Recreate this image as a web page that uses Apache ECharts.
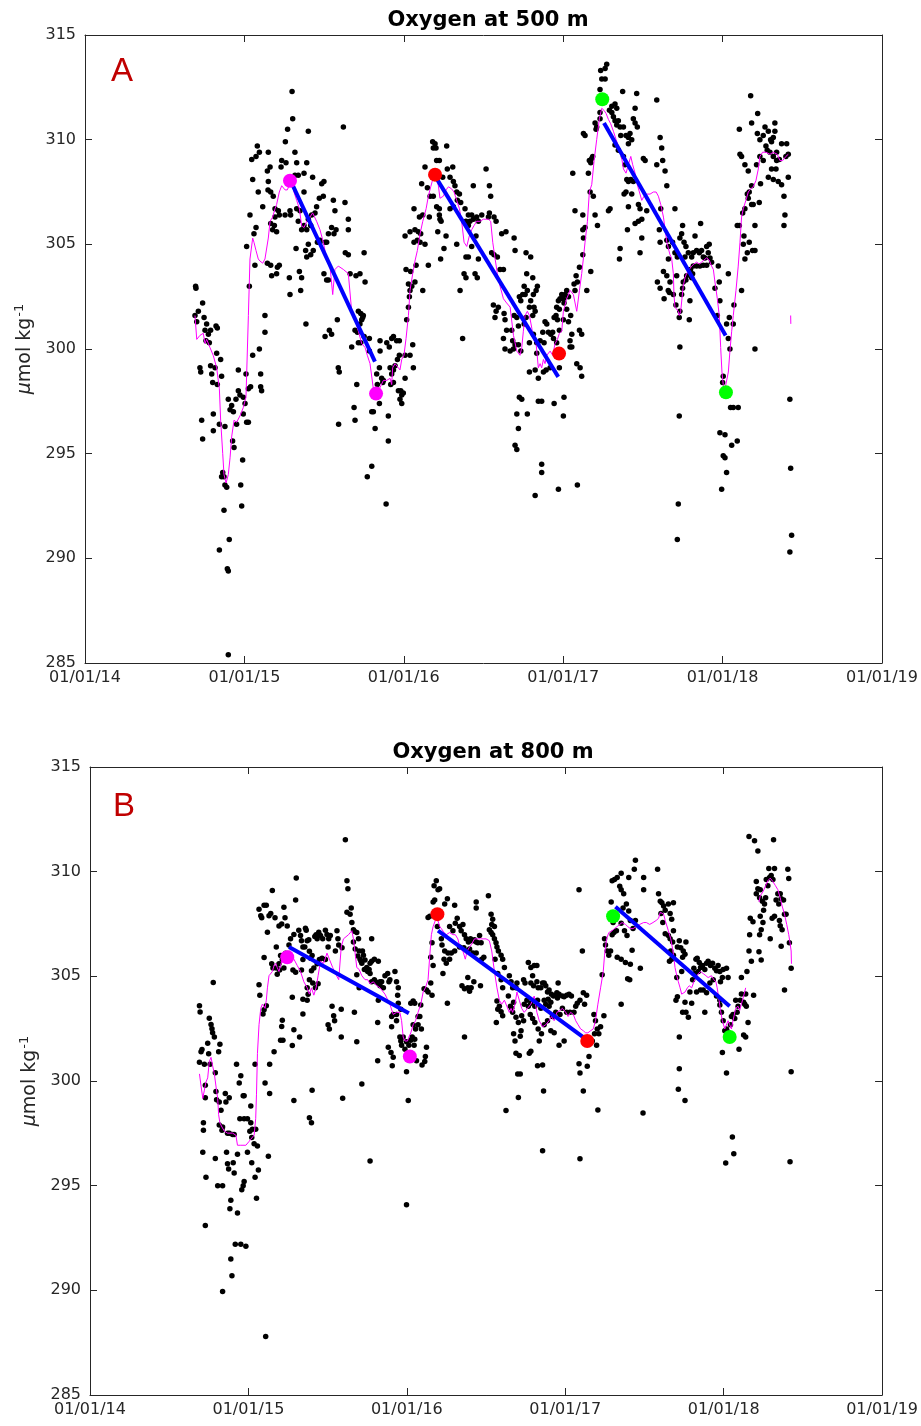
<!DOCTYPE html>
<html>
<head>
<meta charset="utf-8">
<title>Oxygen at 500 m / 800 m</title>
<script src="https://cdn.jsdelivr.net/npm/echarts@6/dist/echarts.min.js"></script>
<style>
html, body { margin: 0; padding: 0; background: #fff; }
#main { width: 921px; height: 1426px; }
</style>
</head>
<body>
<div id="main"></div>
<script>
// x values are decimal years, y values are umol/kg
var yearTicks = [2014, 2015, 2016, 2017, 2018, 2019];
var oxyTicks = [285, 290, 295, 300, 305, 310, 315];

// ---- 500 m : individual profiles ----
var obs500 = [
[2014.694,303.0],[2014.696,302.9],[2014.738,302.2],[2014.711,301.8],[2014.690,301.6],[2014.701,301.3],
[2014.747,301.5],[2014.763,301.2],[2014.753,300.9],[2014.774,300.7],[2014.759,300.4],[2014.780,300.3],[2014.788,300.9],[2014.822,301.1],[2014.830,301.0],
[2014.826,299.8],[2014.851,299.5],[2014.721,299.1],[2014.726,298.9],[2014.788,299.2],[2014.816,299.1],[2014.795,298.8],[2014.801,298.4],[2014.830,298.3],[2014.857,298.7],
[2014.805,296.9],[2014.843,296.4],[2014.878,296.3],[2014.732,296.6],[2014.738,295.7],[2014.805,296.1],
[2014.899,297.6],[2014.920,297.3],[2014.931,297.0],[2014.910,297.1],[2014.947,297.6],[2014.962,298.0],[2014.972,297.8],[2014.993,297.7],[2015.025,298.1],[2015.039,298.2],[2015.004,297.4],[2014.993,296.9],[2015.014,296.5],[2015.025,296.5],[2014.951,296.4],
[2014.926,295.6],[2014.935,295.3],[2014.962,299.0],[2015.010,298.8],[2014.989,294.7],
[2014.864,294.1],[2014.872,293.9],[2014.857,293.9],[2014.878,293.5],[2014.889,293.4],[2014.977,293.5],[2014.983,292.5],[2014.872,292.3],
[2014.905,290.9],[2014.843,290.4],[2014.893,289.5],[2014.899,289.4],[2014.899,285.4],
[2015.031,303.0],[2015.066,304.0],[2015.144,304.1],[2015.165,304.0],[2015.171,303.5],[2015.202,303.6],[2015.207,303.9],[2015.219,304.0],
[2015.035,306.4],[2015.073,305.8],[2015.060,305.5],[2015.014,304.9],
[2015.052,299.7],[2015.094,300.0],[2015.102,298.8],[2015.102,298.2],[2015.108,298.0],[2015.129,300.8],[2015.129,301.6],
[2015.046,309.05],[2015.081,309.7],[2015.094,309.4],[2015.073,309.2],[2015.052,308.1],[2015.087,307.5],[2015.115,306.8],[2015.144,308.5],[2015.161,308.7],[2015.150,308.0],[2015.148,307.6],[2015.165,307.5],[2015.181,307.3],[2015.150,309.4],[2015.192,306.7],[2015.202,305.6],[2015.188,305.9],[2015.192,306.3],[2015.177,305.7],[2015.213,306.6],[2015.219,306.4],[2015.165,306.0],
[2015.234,309.0],[2015.230,308.7],[2015.261,308.9],[2015.271,310.5],[2015.257,309.9],[2015.303,311.0],[2015.299,312.3],[2015.317,309.4],[2015.328,308.9],[2015.317,308.3],[2015.338,308.3],[2015.374,308.4],[2015.391,308.9],[2015.401,310.4],[2015.374,307.5],[2015.428,308.2],[2015.485,307.9],[2015.499,308.0],[2015.495,307.3],[2015.470,307.2],[2015.453,306.8],[2015.443,306.5],[2015.422,306.4],[2015.401,306.2],[2015.416,305.9],[2015.349,306.6],[2015.328,306.7],[2015.286,306.6],[2015.290,306.4],[2015.255,306.4],[2015.374,305.9],[2015.391,305.7],[2015.359,305.7],[2015.338,306.1],[2015.324,304.8],[2015.384,304.7],[2015.401,305.0],[2015.416,304.5],[2015.391,304.4],[2015.432,304.7],[2015.458,305.1],[2015.470,305.1],[2015.474,305.2],[2015.506,305.1],[2015.516,305.1],[2015.527,305.5],[2015.547,305.8],[2015.558,307.1],[2015.568,306.6],[2015.562,305.5],[2015.575,305.7],[2015.621,310.6],[2015.631,307.0],[2015.652,306.2],[2015.652,305.7],[2015.633,304.6],[2015.652,304.5],
[2015.499,303.6],[2015.516,303.3],[2015.527,303.3],[2015.345,303.7],[2015.359,303.4],[2015.353,302.8],[2015.282,303.4],[2015.286,302.6],[2015.386,301.2],[2015.506,300.6],[2015.533,300.9],[2015.547,300.7],[2015.583,301.4],[2015.589,299.1],[2015.595,298.9],[2015.591,296.4],
[2015.663,303.6],[2015.700,303.5],[2015.725,303.6],[2015.757,303.2],[2015.751,304.6],
[2015.715,301.8],[2015.730,301.7],[2015.746,301.6],[2015.742,301.5],[2015.725,301.2],[2015.736,301.4],
[2015.694,300.9],[2015.709,300.8],[2015.673,300.1],[2015.715,300.3],[2015.730,300.3],[2015.751,300.6],[2015.784,300.5],[2015.784,299.9],
[2015.705,298.3],[2015.688,297.2],[2015.694,296.6],[2015.799,297.0],[2015.809,297.0],[2015.820,296.2],[2015.847,297.4],[2015.868,298.4],[2015.861,298.6],[2015.830,298.8],[2015.847,299.1],[2015.872,298.5],[2015.834,298.3],[2015.851,299.9],[2015.851,300.4],[2015.893,300.3],[2015.909,300.1],[2015.924,300.5],[2015.935,300.6],[2015.955,300.4],[2015.972,300.4],[2015.914,299.1],[2015.924,298.8],[2015.935,299.0],[2015.945,299.2],[2015.960,299.5],[2015.972,299.7],[2015.935,298.4],[2015.918,298.3],[2015.966,298.0],[2015.981,298.0],[2015.987,297.8],[2015.976,297.6],[2015.987,297.4],[2015.997,297.9],[2016.008,298.6],[2016.008,299.7],[2016.039,299.7],[2016.056,300.2],[2016.060,299.1],[2015.903,296.8],[2015.903,295.6],[2015.799,294.4],[2015.771,293.9],[2015.889,292.6],
[2016.018,301.4],[2016.029,302.0],[2016.035,302.5],[2016.039,302.8],[2016.050,303.0],[2016.029,303.1],[2016.014,303.8],[2016.043,303.7],[2016.070,303.2],[2016.119,302.8],[2016.077,304.0],[2016.008,305.4],[2016.039,305.6],[2016.070,305.7],[2016.064,305.1],[2016.085,305.2],[2016.102,305.1],[2016.091,305.6],[2016.106,305.5],[2016.098,306.3],[2016.119,306.4],[2016.064,306.7],[2016.112,307.9],[2016.133,308.7],[2016.148,307.7],[2016.154,304.0],[2016.160,306.3],[2016.133,305.0],[2016.165,307.3],[2016.181,309.9],[2016.196,309.8],[2016.202,309.6],[2016.185,309.6],[2016.206,309.0],[2016.223,309.0],[2016.269,309.7],[2016.273,308.6],[2016.307,308.7],[2016.244,308.2],[2016.185,307.3],[2016.206,306.8],[2016.223,306.7],[2016.223,306.4],[2016.227,306.2],[2016.213,305.6],[2016.234,306.1],[2016.252,304.8],[2016.231,304.3],[2016.265,305.4],
[2016.290,308.2],[2016.311,308.0],[2016.321,307.8],[2016.332,307.5],[2016.349,307.4],[2016.357,307.0],[2016.336,307.1],[2016.311,306.8],[2016.290,306.7],[2016.384,306.7],[2016.405,306.4],[2016.390,306.1],[2016.405,305.9],[2016.426,306.4],[2016.415,306.1],[2016.436,306.2],[2016.457,306.3],[2016.468,306.1],[2016.436,307.8],[2016.489,306.4],[2016.516,308.6],[2016.537,307.8],[2016.545,307.3],[2016.537,306.5],[2016.531,306.3],[2016.566,306.3],[2016.579,306.1],[2016.332,305.0],[2016.390,304.4],[2016.405,304.4],[2016.426,304.9],[2016.453,305.4],[2016.468,304.3],[2016.378,303.6],[2016.390,303.4],[2016.447,303.6],[2016.461,303.4],[2016.353,302.8],[2016.369,300.5],[2016.551,304.6],[2016.566,304.5],[2016.587,304.4],[2016.604,303.8],[2016.625,303.8],[2016.562,302.1],[2016.579,301.8],[2016.593,302.0],[2016.572,301.5],[2016.629,301.7],[2016.635,301.4],[2016.614,305.5],[2016.641,305.6],[2016.625,300.5],[2016.635,300.0],[2016.645,300.9],
[2016.692,305.3],[2016.698,304.7],[2016.767,304.6],[2016.796,304.4],[2016.771,303.6],[2016.809,303.4],[2016.755,303.0],[2016.746,302.6],[2016.725,302.5],[2016.734,302.3],[2016.761,302.6],[2016.775,302.8],[2016.796,302.3],[2016.813,302.6],[2016.830,302.8],[2016.838,303.0],[2016.817,302.0],[2016.824,301.8],[2016.809,301.6],[2016.788,302.0],[2016.767,301.5],[2016.755,301.2],[2016.709,301.5],[2016.692,301.6],[2016.719,301.1],[2016.677,300.9],[2016.683,300.4],[2016.719,300.2],[2016.734,299.9],[2016.698,300.2],[2016.688,300.0],[2016.667,299.9],[2016.788,300.3],[2016.813,300.7],[2016.834,300.3],[2016.855,300.4],[2016.872,300.8],[2016.880,300.3],[2016.886,301.3],[2016.897,301.2],[2016.907,300.8],[2016.922,300.7],[2016.934,300.8],[2016.939,300.5],[2016.943,301.5],[2016.955,301.6],[2016.964,301.4],[2016.959,302.0],[2016.970,302.3],[2016.980,302.4],[2016.991,302.6],[2017.001,302.4],[2017.005,302.2],[2017.012,302.6],[2017.022,302.8],[2017.033,302.5],[2017.022,301.9],[2017.047,301.6],[2017.033,301.3],[2016.976,301.9],[2017.001,301.4],[2016.976,300.9],[2016.959,300.3],[2016.834,299.8],[2016.824,299.0],[2016.844,298.6],[2016.876,298.9],[2016.893,299.0],[2016.918,299.1],[2016.976,299.1],[2016.788,298.9],
[2016.725,297.7],[2016.740,297.6],[2016.709,296.9],[2016.775,296.9],[2016.719,296.2],[2016.698,295.4],[2016.709,295.2],[2016.844,297.5],[2016.865,297.5],[2016.943,297.4],[2017.005,297.7],[2017.001,296.8],[2016.865,294.5],[2016.865,294.1],[2016.824,293.0],[2016.970,293.3],[2017.089,293.5],
[2017.085,299.3],[2017.106,299.1],[2017.116,298.7],[2017.043,300.1],[2017.054,300.1],[2017.102,300.9],[2017.116,300.7],[2017.054,300.7],[2017.043,300.4],
[2017.074,302.8],[2017.068,303.1],[2017.089,303.2],[2017.081,303.5],[2017.102,303.9],[2017.123,304.5],[2017.148,302.8],[2017.173,303.7],[2017.127,305.3],[2017.123,305.7],[2017.123,306.4],[2017.074,306.6],[2017.137,305.8],[2017.200,306.4],[2017.215,305.9],[2017.189,307.3],[2017.169,307.5],[2017.158,308.4],[2017.164,309.0],[2017.179,309.1],[2017.185,309.2],[2017.173,308.9],[2017.060,308.4],[2017.127,310.3],[2017.137,310.2],[2017.200,310.8],[2017.210,310.6],[2017.206,310.5],[2017.231,311.0],[2017.231,311.3],[2017.231,312.4],[2017.242,312.9],[2017.235,313.3],[2017.263,313.4],[2017.273,313.6],[2017.263,312.9],
[2017.290,311.4],[2017.305,311.6],[2017.325,311.7],[2017.336,311.5],[2017.305,311.3],[2017.315,311.1],[2017.325,310.9],[2017.336,310.7],[2017.346,310.9],[2017.357,310.6],[2017.361,310.2],[2017.378,310.6],[2017.394,310.2],[2017.409,310.1],[2017.409,309.8],[2017.419,310.3],[2017.430,310.0],[2017.440,311.0],[2017.451,311.5],[2017.461,312.2],[2017.373,312.3],[2017.451,310.8],[2017.465,310.6],[2017.325,309.75],[2017.346,309.5],[2017.378,309.2],[2017.388,308.8],[2017.399,308.1],[2017.409,308.0],[2017.424,308.1],[2017.440,308.0],[2017.382,307.4],[2017.394,307.5],[2017.409,306.8],[2017.430,307.4],[2017.472,306.9],[2017.482,306.7],[2017.451,306.0],[2017.472,306.1],[2017.493,306.2],[2017.503,309.1],[2017.514,309.0],[2017.524,306.6],[2017.493,305.3],[2017.482,304.6],[2017.403,305.7],[2017.357,304.8],[2017.353,304.3],[2017.294,306.7],[2017.284,306.6],[2017.587,311.9],[2017.608,310.1],[2017.618,309.6],[2017.587,308.8],[2017.624,309.0],[2017.639,308.5],[2017.650,307.8],[2017.612,306.7],[2017.603,305.7],[2017.608,305.1],[2017.660,304.9],[2017.650,305.2],[2017.591,303.2],[2017.608,302.9],[2017.629,303.7],[2017.650,303.5],[2017.660,304.3],[2017.633,302.4],[2017.666,302.7],
[2017.701,306.7],[2017.686,305.1],[2017.701,304.6],[2017.716,304.4],[2017.732,305.3],[2017.749,305.9],[2017.743,305.5],[2017.758,305.1],[2017.770,304.9],[2017.764,304.4],[2017.785,304.6],[2017.806,304.4],[2017.816,304.6],[2017.827,305.4],[2017.837,304.7],[2017.854,304.6],[2017.862,306.0],[2017.868,304.7],[2017.879,304.4],[2017.889,304.35],[2017.900,304.9],[2017.916,305.0],[2017.910,304.6],[2017.921,304.35],[2017.931,304.15],[2017.900,304.0],[2017.879,304.0],[2017.858,303.96],[2017.837,303.96],[2017.816,303.96],[2017.799,303.8],[2017.812,303.6],[2017.806,303.4],[2017.774,303.5],[2017.770,303.3],[2017.753,303.2],[2017.743,302.6],[2017.707,302.1],[2017.732,301.8],[2017.728,301.5],[2017.749,302.9],[2017.791,301.4],[2017.795,302.3],[2017.732,300.1],[2017.728,296.8],[2017.722,292.6],[2017.716,290.9],[2017.659,302.8],[2017.691,302.6],[2017.670,303.2],[2017.712,303.5],
[2017.973,303.96],[2017.979,303.2],[2017.952,302.9],[2017.983,302.3],[2017.967,301.6],[2018.036,303.6],[2018.025,301.2],[2018.042,301.5],[2018.067,301.2],[2018.071,302.1],[2018.036,300.5],[2018.046,300.0],[2018.004,298.7],[2018.000,298.4],[2018.050,297.2],[2018.067,297.2],[2018.098,297.2],[2017.983,296.0],[2018.015,295.9],[2018.004,294.9],[2018.015,294.8],[2018.025,294.1],[2017.994,293.3],[2018.057,295.4],[2018.092,295.6],[2018.119,302.8],[2018.203,300.0],
[2018.092,305.9],[2018.105,305.9],[2018.126,306.5],[2018.140,306.7],[2018.134,305.4],[2018.130,305.0],[2018.140,304.3],[2018.155,304.6],[2018.167,305.1],[2018.188,304.7],[2018.203,304.7],[2018.161,307.2],[2018.155,307.4],[2018.167,307.5],[2018.182,306.9],[2018.192,306.9],[2018.203,305.9],[2018.230,307.0],[2018.238,307.9],[2018.109,309.3],[2018.119,309.2],[2018.140,308.8],[2018.161,308.5],[2018.182,307.8],[2018.213,308.8],[2018.234,309.2],[2018.255,309.0],[2018.105,310.5],[2018.182,310.8],[2018.220,311.25],[2018.176,312.1],[2018.218,310.3],[2018.234,310.0],[2018.255,310.2],[2018.266,310.6],[2018.287,310.4],[2018.301,310.0],[2018.318,310.1],[2018.328,310.4],[2018.328,310.8],[2018.307,309.9],[2018.272,309.7],[2018.280,309.5],[2018.297,309.4],[2018.318,309.2],[2018.339,309.4],[2018.356,309.05],[2018.370,309.8],[2018.402,309.8],[2018.397,309.2],[2018.412,309.3],[2018.339,309.0],[2018.335,308.6],[2018.307,308.6],[2018.287,308.2],[2018.318,308.1],[2018.349,308.0],[2018.370,307.85],[2018.412,308.2],[2018.385,307.3],[2018.391,306.4],[2018.385,305.9],[2018.422,297.6],[2018.427,294.3],[2018.433,291.1],[2018.422,290.3]
];

// ---- 500 m : running mean (null = gap) ----
var mean500 = [
[2014.690,301.6],[2014.701,300.46],[2014.721,300.65],[2014.742,300.75],[2014.753,300.26],[2014.763,300.46],[2014.784,300.07],[2014.805,299.68],[2014.826,299.1],[2014.843,298.1],[2014.851,296.6],[2014.864,295.0],[2014.872,294.0],[2014.885,293.6],[2014.899,294.0],[2014.910,294.8],[2014.920,295.8],[2014.935,296.6],[2014.951,296.5],[2014.972,296.8],[2014.993,297.2],[2015.010,297.7],[2015.025,301.6],[2015.035,304.3],[2015.052,305.3],[2015.060,305.1],[2015.073,304.7],[2015.087,304.3],[2015.098,304.2],[2015.115,304.1],[2015.129,304.3],[2015.150,305.3],[2015.161,306.1],[2015.177,306.3],[2015.192,306.7],[2015.202,306.9],[2015.219,307.5],[2015.234,307.8],[2015.255,307.6],[2015.269,307.6],[2015.286,307.9],[2015.303,307.8],[2015.311,307.5],[2015.328,307.1],[2015.345,306.7],[2015.359,305.9],[2015.374,305.8],[2015.391,306.1],[2015.411,306.3],[2015.428,306.5],[2015.453,306.1],[2015.474,305.7],[2015.495,305.1],[2015.516,304.3],[2015.537,303.96],[2015.554,302.6],[2015.568,303.8],[2015.589,303.96],[2015.621,303.8],[2015.652,303.6],
[2015.673,301.8],[2015.694,301.4],[2015.715,300.85],[2015.736,300.26],[2015.757,300.07],[2015.771,299.7],[2015.788,299.3],[2015.799,299.3],[2015.809,298.1],[2015.826,297.9],[2015.847,298.1],[2015.872,298.5],[2015.893,298.5],[2015.914,298.6],[2015.924,298.3],[2015.930,299.1],[2015.945,299.3],[2015.966,299.1],[2015.976,299.0],[2015.987,299.5],[2016.001,299.7],[2016.014,300.5],[2016.029,301.6],[2016.039,302.8],[2016.056,303.6],[2016.070,304.2],[2016.085,304.7],[2016.102,305.5],[2016.119,306.1],[2016.140,306.7],[2016.154,307.3],[2016.169,307.75],[2016.185,308.2],[2016.202,308.2],[2016.217,307.8],[2016.227,307.2],[2016.248,307.3],[2016.265,307.6],[2016.280,307.75],[2016.300,307.65],[2016.315,307.5],[2016.332,307.1],[2016.349,306.7],[2016.363,306.1],[2016.378,305.1],[2016.395,304.9],[2016.411,305.4],[2016.426,305.7],[2016.441,305.9],[2016.457,306.1],[2016.478,306.1],[2016.499,306.2],[2016.531,306.2],[2016.545,306.1],[2016.558,305.1],[2016.572,304.35],[2016.587,303.6],[2016.604,303.0],[2016.625,302.4],[2016.645,302.2],
[2016.667,302.0],[2016.688,300.65],[2016.709,299.9],[2016.729,299.7],[2016.740,300.07],[2016.750,300.85],[2016.761,301.6],[2016.775,301.8],[2016.788,301.6],[2016.803,301.0],[2016.813,300.46],[2016.830,300.26],[2016.844,299.1],[2016.855,299.3],[2016.865,299.1],[2016.876,299.5],[2016.886,299.3],[2016.897,299.7],[2016.918,299.9],[2016.934,299.7],[2016.949,300.26],[2016.964,300.46],[2016.976,300.75],[2016.991,300.85],[2017.001,301.8],[2017.022,302.4],[2017.043,302.8],[2017.064,302.6],[2017.085,301.8],[2017.102,302.8],[2017.116,303.6],[2017.127,304.35],[2017.137,305.1],[2017.152,306.1],[2017.164,307.5],[2017.179,307.85],[2017.194,309.0],[2017.210,310.0],[2017.227,311.0],[2017.242,311.5],[2017.256,311.4],[2017.269,311.25],[2017.284,310.96],[2017.298,310.76],[2017.315,310.4],[2017.332,310.0],[2017.346,309.7],[2017.361,309.4],[2017.378,308.6],[2017.394,308.4],[2017.409,308.8],[2017.424,309.2],[2017.436,308.8],[2017.451,308.4],[2017.465,307.85],[2017.478,307.5],[2017.493,307.1],[2017.507,307.3],[2017.524,307.4],[2017.545,307.4],[2017.566,307.5],[2017.583,307.5],[2017.597,307.3],[2017.612,306.9],[2017.629,306.3],[2017.650,305.1],
[2017.670,304.5],[2017.680,304.35],[2017.691,303.6],[2017.695,302.6],[2017.701,302.0],[2017.712,302.0],[2017.722,301.8],[2017.728,301.6],[2017.737,301.8],[2017.745,302.4],[2017.753,303.0],[2017.764,303.4],[2017.774,303.6],[2017.791,303.8],[2017.806,303.96],[2017.820,304.06],[2017.837,304.15],[2017.854,304.06],[2017.868,304.15],[2017.883,304.25],[2017.900,304.35],[2017.916,304.25],[2017.931,303.96],[2017.942,303.8],[2017.952,303.2],[2017.967,302.4],[2017.979,301.6],[2017.988,300.07],[2017.996,298.9],[2018.004,298.3],[2018.015,298.1],[2018.025,298.1],[2018.036,298.9],[2018.046,299.9],[2018.057,300.85],[2018.067,301.6],[2018.084,302.8],[2018.098,303.96],[2018.109,305.1],[2018.119,306.3],[2018.130,306.7],[2018.146,307.1],[2018.161,307.5],[2018.176,307.65],[2018.192,307.75],[2018.209,308.04],[2018.224,308.6],[2018.234,309.2],[2018.251,309.4],[2018.272,309.4],[2018.297,309.3],[2018.318,309.4],[2018.343,309.3],[2018.360,309.0],[2018.377,309.0],[2018.397,309.2],[2018.412,309.3],
null,[2018.427,301.6],[2018.428,301.2]
];

// ---- 500 m : trend segments and markers ----
var trend500 = [
  [[2015.296,307.94],[2015.819,299.4]],
  [[2016.206,308.14],[2016.969,298.67]],
  [[2017.256,310.8],[2018.019,300.65]]
];
var magentaPts500 = [[2015.286,308.04],[2015.826,297.87]];
var redPts500 = [[2016.196,308.33],[2016.974,299.78]];
var greenPts500 = [[2017.245,311.93],[2018.021,297.93]];

// ---- 800 m : individual profiles ----
var obs800 = [
[2014.691,303.6],[2014.695,303.3],[2014.753,303.0],[2014.764,302.7],[2014.770,302.5],[2014.774,302.3],[2014.785,302.1],[2014.743,301.8],[2014.707,301.5],[2014.701,301.4],[2014.749,301.3],[2014.691,300.9],[2014.722,300.8],[2014.758,300.8],[2014.778,304.7],[2014.812,301.4],[2014.820,301.75],[2014.791,300.4],[2014.728,299.8],[2014.728,299.2],[2014.795,299.5],[2014.799,299.1],[2014.816,299.0],[2014.827,298.6],[2014.816,297.9],[2014.837,297.8],[2014.833,297.65],[2014.854,299.4],[2014.858,299.0],[2014.879,299.2],[2014.716,298.0],[2014.716,297.65],[2014.712,296.6],[2014.732,295.4],[2014.791,296.3],[2014.806,295.0],[2014.837,295.0],[2014.868,297.5],[2014.879,297.5],[2014.900,297.45],[2014.910,297.45],[2014.862,296.6],[2014.868,296.05],[2014.875,295.8],[2014.904,296.1],[2014.910,295.6],[2014.931,296.5],[2014.946,298.2],[2014.973,298.2],[2014.942,299.9],[2014.952,300.25],[2014.967,299.3],[2014.973,299.3],[2014.925,300.8],[2014.994,298.2],[2015.015,298.8],[2015.015,298.0],[2015.009,297.6],[2015.025,297.7],[2015.021,297.3],[2015.036,297.0],[2015.046,297.7],[2015.057,296.9],[2014.994,296.6],[2015.021,296.1],[2015.063,295.75],[2015.042,295.4],[2014.973,295.2],[2014.967,295.0],[2014.958,294.8],[2015.051,294.4],[2014.889,294.3],[2014.883,293.9],[2014.931,293.7],[2014.728,293.1],[2014.917,292.2],[2014.952,292.2],[2014.984,292.1],[2014.889,291.5],[2014.896,290.7],[2014.837,289.95],[2015.109,287.8],[2015.126,296.4],[2015.134,299.4],[2015.105,299.9],[2015.134,300.8],[2015.162,301.4],[2015.067,304.6],[2015.072,304.1],[2015.092,303.2],[2015.099,303.4],[2015.113,303.6],[2015.042,300.8],
[2015.067,308.2],[2015.078,307.9],[2015.084,307.8],[2015.099,308.4],[2015.113,308.4],[2015.130,307.9],[2015.141,308.0],[2015.151,309.1],[2015.120,307.1],[2015.168,307.8],[2015.193,307.4],[2015.224,308.3],[2015.231,307.8],[2015.245,307.4],[2015.210,307.5],[2015.176,306.4],[2015.099,305.9],[2015.147,305.6],[2015.155,305.4],[2015.193,305.6],[2015.197,305.3],[2015.182,305.1],[2015.176,305.4],[2015.203,306.0],[2015.214,305.8],[2015.235,306.1],[2015.224,305.4],[2015.256,306.5],[2015.266,306.8],[2015.287,307.0],[2015.281,305.3],[2015.298,305.2],[2015.318,307.2],[2015.329,306.95],[2015.335,306.7],[2015.344,306.4],[2015.365,307.2],[2015.371,306.7],[2015.356,306.4],[2015.344,305.8],[2015.335,305.3],[2015.302,309.7],[2015.298,308.65],[2015.360,307.3],[2015.381,306.75],[2015.385,306.2],[2015.392,305.86],[2015.402,306.0],[2015.419,306.9],[2015.427,306.99],[2015.434,306.8],[2015.444,307.1],[2015.455,306.95],[2015.469,306.8],[2015.486,307.2],[2015.496,307.0],[2015.507,306.8],[2015.517,306.95],[2015.503,306.4],[2015.486,305.8],[2015.465,305.86],[2015.448,305.8],[2015.434,305.6],[2015.413,305.4],[2015.398,305.27],[2015.385,304.84],[2015.406,304.68],[2015.423,304.45],[2015.440,304.64],[2015.371,304.45],[2015.377,304.15],[2015.371,303.86],[2015.344,303.9],[2015.277,304.0],[2015.344,303.2],[2015.287,302.45],[2015.214,302.9],[2015.210,302.6],[2015.203,301.95],[2015.218,301.95],[2015.277,301.7],[2015.323,302.1],[2015.402,299.56],[2015.385,298.24],[2015.398,298.0],[2015.287,299.07],[2015.528,303.57],[2015.538,303.12],[2015.544,302.88],[2015.503,302.69],[2015.511,302.49],[2015.586,303.43],[2015.586,302.1],[2015.595,299.17],[2015.559,307.18],[2015.565,306.79],[2015.570,306.5],[2015.549,306.21],[2015.591,306.36],[2015.612,311.52],[2015.622,309.57],[2015.628,309.18],[2015.622,308.06],
[2015.649,308.26],[2015.642,307.97],[2015.653,307.57],[2015.663,307.22],[2015.669,307.15],[2015.684,307.09],[2015.695,306.79],[2015.663,306.64],[2015.674,306.3],[2015.699,306.21],[2015.720,306.21],[2015.726,306.01],[2015.690,305.97],[2015.705,305.82],[2015.711,305.72],[2015.716,305.62],[2015.736,305.78],[2015.747,305.42],[2015.753,305.23],[2015.762,305.33],[2015.768,305.62],[2015.778,305.72],[2015.795,305.82],[2015.820,305.72],[2015.778,306.79],[2015.732,305.33],[2015.768,305.13],[2015.778,304.74],[2015.795,304.84],[2015.803,304.74],[2015.816,304.68],[2015.831,304.74],[2015.841,304.74],[2015.862,305.03],[2015.879,305.13],[2015.893,304.84],[2015.925,305.23],[2015.935,304.74],[2015.946,304.45],[2015.942,304.1],[2015.946,303.71],[2015.962,303.43],[2015.935,303.18],[2015.914,303.18],[2015.904,303.08],[2015.887,304.74],[2015.852,304.45],[2015.820,303.86],[2015.816,302.79],[2015.831,304.55],[2015.684,305.07],[2015.699,304.45],[2015.669,303.28],[2015.684,301.87],[2015.716,299.86],[2015.768,296.18],
[2015.904,302.59],[2015.935,302.88],[2015.956,302.1],[2015.962,301.91],[2015.977,302.1],[2015.967,301.71],[2015.988,301.52],[2015.998,301.87],[2016.013,301.71],[2016.025,301.95],[2016.034,302.1],[2016.046,301.71],[2016.050,302.0],[2016.040,302.69],[2016.055,302.49],[2016.071,302.69],[2016.071,303.08],[2016.082,303.08],[2016.088,303.63],[2016.040,303.82],[2016.025,303.71],[2016.050,303.71],[2016.092,302.49],[2016.124,301.61],[2016.117,301.17],[2016.113,300.93],[2016.096,300.77],[2016.061,300.97],[2015.998,300.44],[2015.883,301.61],[2015.900,301.36],[2015.914,301.13],[2015.908,300.73],[2015.816,300.97],[2016.009,299.07],[2015.998,294.09],
[2016.109,304.41],[2016.124,304.35],[2016.134,304.25],[2016.159,304.1],[2016.151,304.68],[2016.166,305.52],[2016.151,305.91],[2016.159,306.6],[2016.145,307.87],[2016.134,307.81],[2016.166,308.55],[2016.176,308.65],[2016.172,309.33],[2016.186,309.57],[2016.197,309.14],[2016.207,309.18],[2016.186,307.87],[2016.193,307.38],[2016.239,308.45],[2016.256,308.71],[2016.270,307.38],[2016.291,307.18],[2016.306,307.54],[2016.302,308.4],[2016.318,307.77],[2016.333,307.38],[2016.343,307.18],[2016.354,307.48],[2016.364,306.99],[2016.375,306.79],[2016.389,306.64],[2016.402,306.79],[2016.417,306.7],[2016.427,306.75],[2016.438,306.64],[2016.448,306.6],[2016.459,306.95],[2016.469,306.6],[2016.486,305.91],[2016.473,305.82],[2016.438,306.11],[2016.417,306.11],[2016.396,306.3],[2016.381,306.21],[2016.360,306.36],[2016.333,306.4],[2016.302,306.21],[2016.281,306.11],[2016.260,306.11],[2016.239,306.21],[2016.235,305.82],[2016.249,305.62],[2016.228,305.13],[2016.222,306.5],[2016.218,306.79],[2016.270,305.82],[2016.256,303.71],[2016.364,302.1],[2016.348,304.55],[2016.364,304.41],[2016.385,304.45],[2016.396,304.29],[2016.406,304.45],[2016.423,304.74],[2016.465,304.55],[2016.385,304.94],[2016.438,308.55],[2016.438,308.26],[2016.515,308.85],[2016.532,307.97],[2016.542,307.73],[2016.536,307.48],[2016.553,307.38],[2016.521,307.22],[2016.532,307.09],[2016.542,306.99],[2016.553,306.79],[2016.563,306.6],[2016.569,306.4],[2016.578,306.21],[2016.595,306.01],[2016.605,305.82],[2016.616,305.42],[2016.557,305.82],[2016.574,305.13],[2016.595,304.84],[2016.605,304.45],[2016.569,303.82],[2016.584,303.57],[2016.595,303.31],[2016.605,303.12],[2016.574,303.43],[2016.565,302.79],[2016.626,298.59],
[2016.647,305.03],[2016.658,304.74],[2016.668,304.45],[2016.641,304.06],[2016.654,303.57],[2016.662,303.47],[2016.674,303.76],[2016.689,304.45],[2016.695,304.68],[2016.668,303.28],[2016.689,303.04],[2016.704,302.79],[2016.725,303.12],[2016.737,302.88],[2016.721,302.4],[2016.716,302.14],[2016.674,302.26],[2016.683,301.91],[2016.689,301.32],[2016.710,301.22],[2016.700,300.34],[2016.716,300.34],[2016.704,299.21],[2016.737,304.84],[2016.746,304.68],[2016.767,305.66],[2016.783,305.42],[2016.794,305.03],[2016.804,305.52],[2016.821,305.52],[2016.783,304.68],[2016.800,304.55],[2016.821,304.74],[2016.829,304.45],[2016.846,304.45],[2016.857,304.68],[2016.867,304.68],[2016.877,304.55],[2016.888,304.25],[2016.898,304.35],[2016.913,304.15],[2016.926,304.06],[2016.940,304.1],[2016.951,303.96],[2016.961,304.15],[2016.982,304.06],[2016.993,304.02],[2017.009,304.1],[2017.024,304.15],[2017.039,304.06],[2016.955,304.68],[2016.947,304.21],[2016.909,303.76],[2016.898,303.57],[2016.892,303.9],[2016.877,303.67],[2016.867,303.86],[2016.846,303.47],[2016.825,303.86],[2016.808,303.57],[2016.783,303.71],[2016.767,303.57],[2016.758,303.86],[2016.741,303.67],[2016.779,303.18],[2016.794,302.98],[2016.808,302.79],[2016.829,302.49],[2016.850,302.26],[2016.867,302.69],[2016.888,302.88],[2016.919,303.08],[2016.940,303.28],[2016.967,303.18],[2016.982,303.47],[2017.009,303.28],[2017.030,303.28],[2017.055,303.28],[2017.076,303.71],[2017.093,303.86],[2017.114,304.21],[2017.135,304.1],[2017.122,303.67],[2017.066,303.57],[2016.909,302.4],[2016.930,302.3],[2016.961,301.71],[2016.993,301.91],[2016.836,301.91],[2016.825,300.73],[2016.857,300.77],[2016.773,301.32],[2016.783,301.42],[2016.863,299.52],[2016.857,296.67],[2017.087,300.83],[2017.093,300.38],[2017.114,299.52],[2017.093,296.28],[2017.087,309.14],[2017.108,306.21],[2017.150,301.17],[2017.139,300.7],[2017.171,301.91],[2017.185,302.26],[2017.202,302.49],[2017.223,302.59],[2017.212,302.26],[2017.198,301.71],[2017.181,303.18],[2017.191,302.88],[2017.244,303.12],[2017.233,305.07],[2017.206,298.62],
[2017.248,306.79],[2017.254,306.5],[2017.265,306.21],[2017.275,306.01],[2017.286,306.21],[2017.296,306.99],[2017.307,307.09],[2017.323,307.18],[2017.302,307.57],[2017.290,308.55],[2017.296,309.57],[2017.311,309.63],[2017.328,309.72],[2017.344,309.3],[2017.353,309.14],[2017.369,308.94],[2017.386,308.45],[2017.365,308.26],[2017.401,308.12],[2017.411,307.67],[2017.428,307.28],[2017.443,307.67],[2017.353,309.92],[2017.401,309.72],[2017.436,310.12],[2017.443,310.55],[2017.495,309.72],[2017.495,309.14],[2017.583,310.12],[2017.589,308.94],[2017.600,308.59],[2017.610,308.51],[2017.621,308.36],[2017.631,308.16],[2017.616,307.57],[2017.631,307.03],[2017.353,307.54],[2017.374,307.18],[2017.390,306.95],[2017.328,305.91],[2017.353,305.82],[2017.380,305.66],[2017.411,305.58],[2017.407,304.84],[2017.394,304.88],[2017.474,305.39],[2017.422,306.25],[2017.353,303.67],[2017.491,298.47],[2017.604,308.0],
[2017.651,308.45],[2017.662,308.0],[2017.683,308.51],[2017.672,307.73],[2017.683,307.18],[2017.651,306.95],[2017.662,306.79],[2017.678,306.64],[2017.666,306.21],[2017.683,306.01],[2017.672,305.82],[2017.658,305.72],[2017.708,306.4],[2017.720,306.7],[2017.729,306.36],[2017.745,306.21],[2017.756,306.05],[2017.741,305.91],[2017.762,306.64],[2017.735,305.23],[2017.704,304.94],[2017.708,304.02],[2017.699,303.86],[2017.741,303.28],[2017.762,303.28],[2017.777,303.04],[2017.756,303.76],[2017.787,304.25],[2017.798,303.71],[2017.812,305.39],[2017.825,305.82],[2017.833,305.86],[2017.846,305.66],[2017.854,305.42],[2017.840,305.23],[2017.819,305.13],[2017.867,305.52],[2017.881,305.33],[2017.892,305.62],[2017.902,305.72],[2017.917,305.52],[2017.930,305.62],[2017.944,305.39],[2017.955,305.27],[2017.965,305.52],[2017.976,305.23],[2017.997,305.33],[2018.018,305.39],[2018.028,304.94],[2017.992,304.94],[2017.980,304.74],[2017.934,304.84],[2017.913,304.68],[2017.892,304.21],[2017.871,304.35],[2017.854,304.35],[2017.829,304.25],[2017.804,304.84],[2017.881,303.28],[2017.955,304.06],[2017.976,303.86],[2017.976,303.63],[2017.986,303.28],[2017.997,302.88],[2018.007,302.4],[2018.018,302.49],[2018.028,302.34],[2018.043,302.69],[2018.049,303.08],[2018.059,303.18],[2018.076,303.86],[2018.070,302.98],[2018.085,303.28],[2018.091,303.57],[2018.105,303.86],[2018.112,304.16],[2018.126,303.76],[2018.133,303.67],[2018.143,303.57],[2018.139,304.16],[2018.147,305.23],[2018.112,304.94],[2018.154,302.79],[2018.126,302.2],[2018.139,302.1],[2018.097,301.52],[2017.992,301.36],[2018.018,300.38],[2017.720,302.1],[2017.720,300.58],[2017.714,299.6],[2017.756,299.07],[2018.055,297.32],[2018.064,296.53],[2018.013,296.08],[2018.419,296.14],[2018.426,300.44],[2018.384,304.35],[2018.189,304.1],
[2018.160,311.68],[2018.195,311.48],[2018.216,310.99],[2018.206,309.53],[2018.216,309.18],[2018.231,309.14],[2018.206,308.94],[2018.227,308.75],[2018.244,308.59],[2018.265,308.75],[2018.279,309.33],[2018.290,309.72],[2018.300,309.82],[2018.311,309.63],[2018.321,310.15],[2018.285,310.15],[2018.315,311.52],[2018.269,309.63],[2018.258,308.45],[2018.252,308.16],[2018.231,307.87],[2018.248,307.57],[2018.237,307.22],[2018.227,306.99],[2018.168,307.77],[2018.185,307.61],[2018.164,306.99],[2018.160,306.21],[2018.223,306.17],[2018.237,305.78],[2018.175,305.72],[2018.294,306.79],[2018.306,307.77],[2018.321,307.87],[2018.331,308.65],[2018.342,308.94],[2018.357,308.94],[2018.363,308.71],[2018.378,308.65],[2018.348,308.45],[2018.352,307.67],[2018.357,307.42],[2018.369,307.22],[2018.384,307.97],[2018.394,307.97],[2018.405,310.12],[2018.411,309.67],[2018.415,306.6],[2018.363,306.44],[2018.426,305.39]
];

// ---- 800 m : running mean (null = gap) ----
var mean800 = [
[2014.691,300.34],[2014.701,299.76],[2014.712,299.17],[2014.722,299.56],[2014.732,299.95],[2014.743,300.15],[2014.753,300.93],[2014.764,301.13],[2014.774,300.73],[2014.785,300.34],[2014.795,299.76],[2014.806,299.17],[2014.812,298.39],[2014.820,298.0],[2014.833,297.8],[2014.848,297.61],[2014.868,297.51],[2014.900,297.51],[2014.921,297.41],[2014.931,296.93],[2014.952,296.93],[2014.984,296.93],[2014.994,297.02],[2015.005,297.12],[2015.015,297.22],[2015.025,297.22],[2015.036,297.41],[2015.046,298.2],[2015.051,299.37],[2015.057,301.32],[2015.067,302.69],[2015.078,303.47],[2015.088,303.67],[2015.099,303.57],[2015.105,303.47],[2015.113,303.86],[2015.120,304.45],[2015.130,305.03],[2015.141,304.94],[2015.151,305.23],[2015.162,305.52],[2015.172,305.62],[2015.182,305.42],[2015.193,305.23],[2015.203,305.52],[2015.214,305.82],[2015.231,306.11],[2015.245,306.21],[2015.266,306.21],
[2015.287,305.82],[2015.308,305.52],[2015.329,305.23],[2015.350,304.74],[2015.371,304.45],[2015.385,304.15],[2015.398,304.45],[2015.413,304.1],[2015.427,304.45],[2015.440,305.03],[2015.455,305.72],[2015.475,305.62],[2015.496,306.11],[2015.511,305.82],[2015.532,305.42],[2015.549,305.13],[2015.570,304.84],
[2015.586,306.4],[2015.600,306.79],[2015.632,306.99],[2015.653,307.18],[2015.663,306.79],[2015.684,305.42],[2015.699,305.33],[2015.716,305.03],[2015.736,304.84],[2015.753,304.84],[2015.768,304.64],[2015.789,304.74],[2015.810,304.55],[2015.831,304.45],[2015.862,304.15],[2015.893,303.67],[2015.914,303.18],[2015.935,303.28],[2015.956,303.28],[2015.967,302.88],[2015.977,302.1],[2015.988,301.91],[2016.004,301.91],[2016.013,302.1],[2016.025,302.3],[2016.040,302.69],[2016.055,302.88],[2016.071,303.28],[2016.088,303.67],[2016.103,304.25],[2016.117,304.45],[2016.134,304.84],[2016.145,306.01],[2016.155,306.99],[2016.166,307.38],[2016.180,307.67],[2016.193,307.77],[2016.207,307.38],[2016.218,307.28],[2016.235,307.09],[2016.249,306.99],[2016.270,307.09],[2016.291,306.99],[2016.306,306.99],[2016.322,306.79],[2016.339,306.3],[2016.354,306.21],[2016.369,305.82],[2016.381,306.21],[2016.396,306.4],[2016.406,306.5],[2016.427,306.79],[2016.448,306.79],[2016.465,306.79],[2016.486,306.79],[2016.500,306.79],[2016.521,306.7],[2016.536,306.21],[2016.553,305.23],[2016.569,304.45],[2016.584,303.86],[2016.599,303.67],[2016.616,303.86],
[2016.647,303.28],[2016.658,303.47],[2016.668,303.28],[2016.683,303.67],[2016.695,304.25],[2016.710,303.86],[2016.725,303.47],[2016.741,303.28],[2016.762,303.47],[2016.783,303.67],[2016.804,304.06],[2016.821,303.28],[2016.836,302.88],[2016.857,302.59],[2016.877,302.69],[2016.898,302.88],[2016.913,303.08],[2016.930,302.88],[2016.947,303.28],[2016.967,303.37],[2016.982,303.47],[2017.003,303.28],[2017.018,303.08],[2017.034,303.28],[2017.051,303.18],[2017.066,302.88],[2017.081,302.69],[2017.097,302.49],[2017.114,302.4],[2017.129,302.3],[2017.143,302.3],[2017.160,302.4],[2017.177,302.49],[2017.191,302.88],[2017.206,303.67],[2017.223,304.45],[2017.240,305.23],[2017.248,306.01],[2017.261,306.79],[2017.275,307.09],[2017.286,307.09],[2017.296,307.18],[2017.311,307.28],[2017.328,307.38],[2017.344,307.48],[2017.359,307.57],[2017.380,307.48],[2017.394,307.38],[2017.411,307.28],[2017.428,307.28],[2017.449,307.38],[2017.470,307.48],[2017.495,307.57],[2017.512,307.57],[2017.533,307.48],[2017.554,307.57],[2017.574,307.67],[2017.589,307.77],[2017.600,308.06],[2017.610,308.12],[2017.621,307.97],[2017.631,307.67],
[2017.651,307.18],[2017.666,306.79],[2017.678,306.3],[2017.687,305.82],[2017.693,305.42],[2017.704,305.03],[2017.714,304.74],[2017.725,304.45],[2017.735,304.15],[2017.745,304.06],[2017.756,304.25],[2017.771,304.45],[2017.783,304.55],[2017.798,304.45],[2017.812,304.74],[2017.825,304.94],[2017.840,305.13],[2017.854,305.23],[2017.871,305.13],[2017.888,305.03],[2017.902,304.94],[2017.923,305.03],[2017.938,304.84],[2017.951,304.74],[2017.959,304.45],[2017.971,303.86],[2017.980,303.37],[2017.992,302.88],[2018.007,302.49],[2018.018,302.49],[2018.028,302.88],[2018.038,302.69],[2018.049,302.49],[2018.059,302.88],[2018.076,303.47],[2018.091,303.57],[2018.101,303.37],[2018.112,303.67],[2018.126,304.06],[2018.139,304.45],
null,[2018.223,308.55],[2018.231,308.85],[2018.248,309.04],[2018.265,309.33],[2018.279,309.57],[2018.294,309.69],[2018.311,309.53],[2018.327,309.33],[2018.342,309.14],[2018.357,308.75],[2018.369,308.36],[2018.384,307.97],[2018.398,307.48],[2018.411,306.99],[2018.419,306.6],[2018.426,306.21],[2018.428,305.6]
];

// ---- 800 m : trend segments and markers ----
var trend800 = [
  [[2015.256,306.4],[2016.013,303.24]],
  [[2016.197,307.18],[2017.139,301.95]],
  [[2017.317,308.32],[2018.038,303.57]]
];
var magentaPts800 = [[2015.245,305.91],[2016.019,301.17]];
var redPts800 = [[2016.193,307.97],[2017.139,301.91]];
var greenPts800 = [[2017.302,307.87],[2018.038,302.1]];

var axisColor = '#262626';
var labelFont = '"DejaVu Sans", Verdana, sans-serif';
var letterFont = '"Liberation Sans", Arial, Helvetica, sans-serif';

var dom = document.getElementById('main');
var myChart = echarts.init(dom, null, { renderer: 'canvas' });

var grids = [
  { left: 85, top: 35, width: 797, height: 628 },
  { left: 90, top: 767, width: 797, height: 628 }
];

function yearLabel(v) {
  return '01/01/' + String(Math.round(v)).slice(2);
}

function xAxes(g) {
  var common = {
    gridIndex: g, type: 'value',
    min: yearTicks[0], max: yearTicks[yearTicks.length - 1], interval: 1,
    splitLine: { show: false },
    axisLine: { show: true, lineStyle: { color: axisColor, width: 1 } },
    axisTick: { show: true, inside: true, length: 7, lineStyle: { color: axisColor } }
  };
  return [
    Object.assign({}, common, {
      position: 'bottom',
      axisLabel: { show: true, formatter: yearLabel, color: axisColor, fontSize: 16, fontFamily: labelFont, margin: 7,
                   showMinLabel: true, showMaxLabel: true }
    }),
    Object.assign({}, common, { position: 'top', axisLabel: { show: false } })
  ];
}

function yAxes(g) {
  var common = {
    gridIndex: g, type: 'value',
    min: oxyTicks[0], max: oxyTicks[oxyTicks.length - 1], interval: 5,
    splitLine: { show: false },
    axisLine: { show: true, lineStyle: { color: axisColor, width: 1 } },
    axisTick: { show: true, inside: true, length: 7, lineStyle: { color: axisColor } }
  };
  return [
    Object.assign({}, common, {
      position: 'left',
      name: '{mu|\u03bc}mol kg{sup|-1}',
      nameLocation: 'middle',
      nameGap: 35,
      nameRotate: 90,
      nameTextStyle: {
        color: axisColor, fontSize: 19, fontFamily: labelFont,
        rich: {
          mu: { fontSize: 19, fontStyle: 'italic', fontFamily: labelFont, color: axisColor },
          sup: { fontSize: 13, fontFamily: labelFont, color: axisColor, verticalAlign: 'top', padding: [0, 0, 10, 1] }
        }
      },
      axisLabel: { show: true, color: axisColor, fontSize: 16, fontFamily: labelFont, margin: 9 }
    }),
    Object.assign({}, common, { position: 'right', axisLabel: { show: false } })
  ];
}

function panelSeries(g, obs, mean, trends, mPts, rPts, gPts) {
  var xi = g * 2, yi = g * 2;
  var list = [];
  list.push({
    type: 'scatter', xAxisIndex: xi, yAxisIndex: yi, data: obs,
    symbol: 'circle', symbolSize: 5.5, itemStyle: { color: '#000', opacity: 1 }, z: 2, silent: true
  });
  list.push({
    type: 'line', xAxisIndex: xi, yAxisIndex: yi, data: mean,
    showSymbol: false, connectNulls: false,
    lineStyle: { color: '#ff00ff', width: 1 }, z: 3, silent: true
  });
  trends.forEach(function (seg) {
    list.push({
      type: 'line', xAxisIndex: xi, yAxisIndex: yi, data: seg,
      showSymbol: false, lineStyle: { color: '#0000ff', width: 4 }, z: 4, silent: true
    });
  });
  [[mPts, '#ff00ff'], [rPts, '#ff0000'], [gPts, '#00ff00']].forEach(function (p) {
    list.push({
      type: 'scatter', xAxisIndex: xi, yAxisIndex: yi, data: p[0],
      symbol: 'circle', symbolSize: 14, itemStyle: { color: p[1], opacity: 1 }, z: 5, silent: true
    });
  });
  return list;
}

var option = {
  backgroundColor: '#fff',
  animation: false,
  title: [
    { text: 'Oxygen at 500 m', left: 483, top: 5, textAlign: 'center',
      textStyle: { fontSize: 21, fontWeight: 'bold', color: '#000', fontFamily: labelFont } },
    { text: 'Oxygen at 800 m', left: 488, top: 737, textAlign: 'center',
      textStyle: { fontSize: 21, fontWeight: 'bold', color: '#000', fontFamily: labelFont } },
    { text: 'A', left: 106, top: 50,
      textStyle: { fontSize: 33, fontWeight: 'normal', color: '#c00000', fontFamily: letterFont } },
    { text: 'B', left: 108, top: 785,
      textStyle: { fontSize: 33, fontWeight: 'normal', color: '#c00000', fontFamily: letterFont } }
  ],
  grid: grids,
  xAxis: xAxes(0).concat(xAxes(1)),
  yAxis: yAxes(0).concat(yAxes(1)),
  series: panelSeries(0, obs500, mean500, trend500, magentaPts500, redPts500, greenPts500)
    .concat(panelSeries(1, obs800, mean800, trend800, magentaPts800, redPts800, greenPts800))
};

myChart.setOption(option);
</script>
</body>
</html>
